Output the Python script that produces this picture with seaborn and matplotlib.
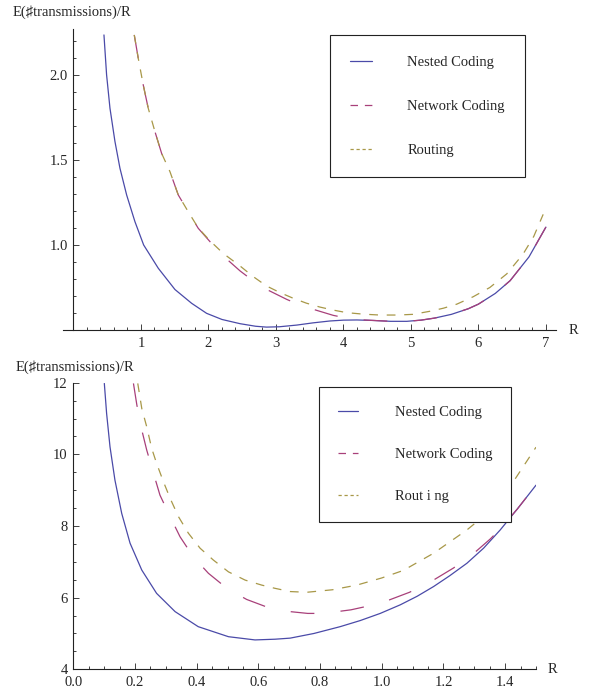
import pandas as pd
import matplotlib
matplotlib.use('Agg')
import matplotlib.pyplot as plt
from matplotlib.lines import Line2D
from matplotlib.ticker import MultipleLocator
import seaborn as sns

sns.set_style('white')
plt.rcParams['font.family'] = ['Liberation Serif', 'DejaVu Sans']
plt.rcParams['font.size'] = 10.5

# 1. data
# upper panel (R from 0 to 7)
top_nested_r = [0.452, 0.491, 0.541, 0.615, 0.689, 0.788, 0.911, 1.04, 1.257, 1.504, 1.751,
                1.973, 2.2, 2.47, 2.7, 2.86, 3.05, 3.31, 3.55, 3.80, 4.0, 4.2, 4.45, 4.7,
                4.94, 5.15, 5.35, 5.6, 5.85, 6.0, 6.25, 6.47, 6.75, 7.0]
top_nested_v = [2.235, 2.0, 1.804, 1.608, 1.451, 1.294, 1.137, 1.0, 0.863, 0.738, 0.657,
                0.598, 0.562, 0.537, 0.522, 0.517, 0.519, 0.529, 0.542, 0.553, 0.558, 0.559,
                0.556, 0.551, 0.551, 0.558, 0.570, 0.592, 0.625, 0.652, 0.715, 0.79, 0.93, 1.105]
top_network_r = [0.901, 0.96, 1.034, 1.108, 1.207, 1.306, 1.43, 1.553, 1.70, 1.849, 2.022,
                 2.22, 2.47, 2.66, 2.86, 3.16, 3.35, 3.55, 3.85, 4.05, 4.25, 4.45, 4.7,
                 4.94, 5.15, 5.35, 5.6, 5.85, 6.0, 6.25, 6.47, 6.75, 7.0]
top_network_v = [2.235, 2.098, 1.941, 1.804, 1.667, 1.539, 1.431, 1.294, 1.196, 1.098, 1.02,
                 0.935, 0.847, 0.79, 0.739, 0.68, 0.648, 0.622, 0.586, 0.570, 0.560, 0.556, 0.551,
                 0.551, 0.558, 0.570, 0.592, 0.625, 0.652, 0.715, 0.79, 0.93, 1.105]
top_routing_r = [0.901, 0.96, 1.034, 1.108, 1.207, 1.306, 1.43, 1.553, 1.70, 1.849, 2.022,
                 2.22, 2.47, 2.66, 2.86, 3.06, 3.26, 3.45, 3.65, 3.85, 4.05, 4.3, 4.54, 4.8,
                 5.03, 5.28, 5.48, 5.68, 5.92, 6.17, 6.42, 6.66, 6.82, 6.96]
top_routing_v = [2.235, 2.098, 1.941, 1.804, 1.667, 1.539, 1.431, 1.294, 1.196, 1.10, 1.025,
                 0.95, 0.876, 0.815, 0.759, 0.72, 0.686, 0.658, 0.635, 0.617, 0.602, 0.593,
                 0.588, 0.588, 0.592, 0.61, 0.628, 0.652, 0.695, 0.75, 0.83, 0.945, 1.05, 1.18]

# lower panel (R from 0 to 1.5)
bot_nested_r = [0.1006, 0.108, 0.119, 0.135, 0.157, 0.184, 0.222, 0.27, 0.33, 0.405, 0.503,
                0.589, 0.654, 0.703, 0.78, 0.865, 0.93, 0.995, 1.06, 1.115, 1.168, 1.22,
                1.276, 1.33, 1.384, 1.44, 1.5]
bot_nested_v = [11.98, 11.14, 10.21, 9.28, 8.35, 7.52, 6.77, 6.12, 5.61, 5.19, 4.91,
                4.82, 4.84, 4.87, 5.0, 5.19, 5.36, 5.56, 5.80, 6.04, 6.31, 6.61,
                6.96, 7.38, 7.89, 8.48, 9.14]
bot_network_r = [0.195, 0.206, 0.222, 0.238, 0.26, 0.281, 0.314, 0.346, 0.389, 0.438, 0.498,
                 0.562, 0.633, 0.703, 0.76, 0.811, 0.9, 0.995, 1.09, 1.16, 1.233, 1.3,
                 1.352, 1.384, 1.44, 1.5]
bot_network_v = [11.98, 11.38, 10.68, 10.12, 9.47, 8.86, 8.26, 7.70, 7.14, 6.68, 6.26,
                 5.95, 5.72, 5.61, 5.56, 5.56, 5.66, 5.84, 6.15, 6.45, 6.83, 7.25,
                 7.64, 7.92, 8.48, 9.14]
bot_routing_r = [0.209, 0.222, 0.238, 0.254, 0.27, 0.292, 0.314, 0.341, 0.373, 0.411, 0.454,
                 0.503, 0.557, 0.611, 0.654, 0.703, 0.757, 0.84, 0.919, 1.0, 1.07, 1.168,
                 1.276, 1.33, 1.416, 1.5]
bot_routing_v = [11.98, 11.28, 10.77, 10.17, 9.75, 9.24, 8.77, 8.26, 7.80, 7.38, 7.05,
                 6.72, 6.49, 6.35, 6.26, 6.17, 6.15, 6.22, 6.35, 6.55, 6.76, 7.24,
                 7.89, 8.27, 9.10, 10.2]

series_names = ['Nested Coding', 'Network Coding', 'Routing']
bottom_legend_labels = ['Nested Coding', 'Network Coding', 'Rout i ng']
ylabel_text = 'E(\u266Ftransmissions)/R'

colors = {'Nested Coding': '#4a4aa8', 'Network Coding': '#a8407a', 'Routing': '#a89848'}
lw = 0.9
dashes = {'Nested Coding': '', 'Network Coding': (19, 21), 'Routing': (7, 7)}
legend_dashes = {'Nested Coding': None, 'Network Coding': (6, 5.5), 'Routing': (2.6, 2.2)}


def long_frame(parts):
    frames = []
    for name, r, v in parts:
        frames.append(pd.DataFrame({'R': r, 'val': v, 'series': name}))
    return pd.concat(frames, ignore_index=True)


df_top = long_frame([('Nested Coding', top_nested_r, top_nested_v),
                     ('Network Coding', top_network_r, top_network_v),
                     ('Routing', top_routing_r, top_routing_v)])
df_bot = long_frame([('Nested Coding', bot_nested_r, bot_nested_v),
                     ('Network Coding', bot_network_r, bot_network_v),
                     ('Routing', bot_routing_r, bot_routing_v)])

W, H = 590, 696
fig = plt.figure(figsize=(W / 100, H / 100), dpi=100)
ax_top = fig.add_axes([63 / W, 1 - 330 / H, 493 / W, 301 / H])
ax_bot = fig.add_axes([73.3 / W, 1 - 669.3 / H, 462.7 / W, 286.6 / H])


def draw(ax, df):
    sns.lineplot(data=df, x='R', y='val', hue='series', style='series',
                 hue_order=series_names, style_order=series_names,
                 palette=colors, dashes=dashes, estimator=None, sort=False,
                 linewidth=lw, legend=False, ax=ax)
    ax.set_xlabel('')
    ax.set_ylabel('')
    for side in ['top', 'right']:
        ax.spines[side].set_visible(False)
    for side in ['left', 'bottom']:
        ax.spines[side].set_color('#222222')
        ax.spines[side].set_linewidth(0.8)
    ax.tick_params(which='both', direction='in', color='#222222', width=0.6,
                   labelsize=10.5, bottom=True, left=True)
    ax.tick_params(which='major', length=4.5)
    ax.tick_params(which='minor', length=2.5)
    ax.tick_params(axis='x', pad=5)
    ax.tick_params(axis='y', pad=4)
    ax.patch.set_alpha(0)


def add_legend(ax, labels, anchor, bp, spacing, hlen, hpad):
    handles = []
    for name in series_names:
        h = Line2D([], [], color=colors[name], lw=lw)
        if legend_dashes[name] is not None:
            h.set_dashes(legend_dashes[name])
        handles.append(h)
    leg = ax.legend(handles, labels, loc='upper left', bbox_to_anchor=anchor,
                    bbox_transform=fig.transFigure, borderaxespad=0, frameon=True,
                    fancybox=False, framealpha=1, edgecolor='#222222',
                    borderpad=bp, labelspacing=spacing, handlelength=hlen,
                    handletextpad=hpad, fontsize=10.5)
    leg.get_frame().set_linewidth(0.8)


# 2. upper panel
draw(ax_top, df_top)
ax_top.set_xlim(-0.155, 7.15)
ax_top.set_ylim(0.5, 2.27)
ax_top.spines['left'].set_position(('data', 0))
ax_top.set_xticks([1, 2, 3, 4, 5, 6, 7])
ax_top.xaxis.set_minor_locator(MultipleLocator(0.2))
ax_top.set_yticks([0.5, 1.0, 1.5, 2.0], labels=['', '1.0', '1.5', '2.0'])
ax_top.yaxis.set_minor_locator(MultipleLocator(0.1))
ax_top.text(1.035, 0, 'R', transform=ax_top.transAxes, ha='center', va='center',
            fontsize=10.5, clip_on=False)
add_legend(ax_top, series_names, (330 / W, 1 - 35 / H), 1.4, 2.12, 1.5, 2.4)

# 3. lower panel
draw(ax_bot, df_bot)
ax_bot.set_xlim(0, 1.5)
ax_bot.set_ylim(4, 12)
ax_bot.set_xticks([0.0, 0.2, 0.4, 0.6, 0.8, 1.0, 1.2, 1.4],
                  labels=['0.0', '0.2', '0.4', '0.6', '0.8', '1.0', '1.2', '1.4'])
ax_bot.xaxis.set_minor_locator(MultipleLocator(0.05))
ax_bot.set_yticks([4, 6, 8, 10, 12])
ax_bot.yaxis.set_minor_locator(MultipleLocator(0.5))
ax_bot.text(1.0346, 0, 'R', transform=ax_bot.transAxes, ha='center', va='center',
            fontsize=10.5, clip_on=False)
add_legend(ax_bot, bottom_legend_labels, (319 / W, 1 - 387 / H), 1.3, 1.98, 1.4, 2.5)

fig.text(13 / W, 1 - 12 / H, ylabel_text, ha='left', va='center', fontsize=10.5)
fig.text(16 / W, 1 - 367 / H, ylabel_text, ha='left', va='center', fontsize=10.5)

fig.savefig('out.png', dpi=100)
